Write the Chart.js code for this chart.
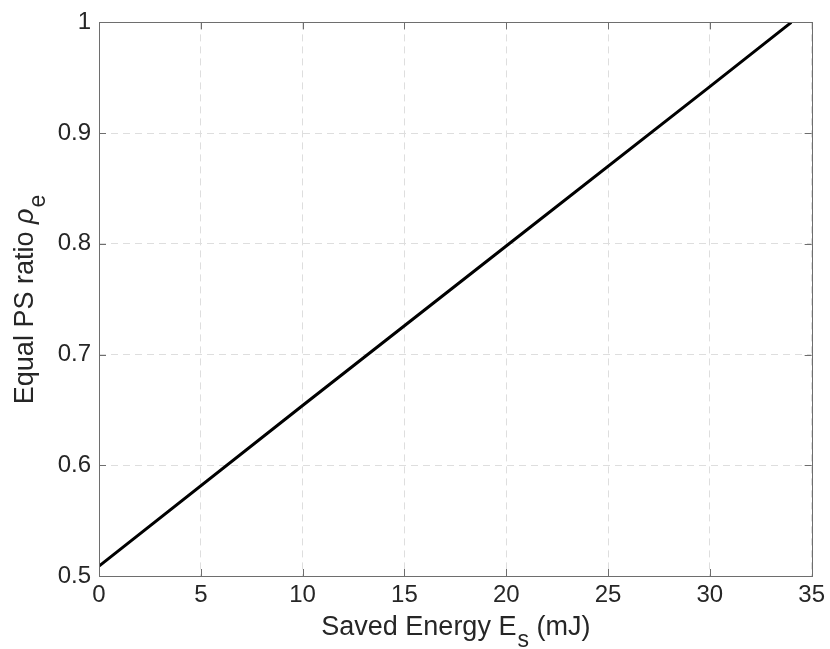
<!DOCTYPE html>
<html>
<head>
<meta charset="utf-8">
<script src="https://cdn.jsdelivr.net/npm/chart.js@4/dist/chart.umd.min.js"></script>
<style>
  html, body { margin: 0; padding: 0; background: #fff; }
  #wrap { width: 830px; height: 649px; }
</style>
</head>
<body>
<div id="wrap"><canvas id="chart" width="830" height="649"></canvas></div>
<script>
// Values
const savedEnergy = [0, 10, 20, 30, 34];          // E_s (mJ)
const psRatio = [0.509, 0.654, 0.798, 0.942, 1.0]; // rho_e
const xTicks = [0, 5, 10, 15, 20, 25, 30, 35];
const yTicks = [0.5, 0.6, 0.7, 0.8, 0.9, 1];

const FONT = '"Liberation Sans", Arial, Helvetica, sans-serif';
const TEXT = '#262626';
const AXIS = '#6e6e6e';

// box, inward ticks and axis titles with subscripts (MATLAB look)
const matlabAxes = {
    id: 'matlabAxes',
    afterDraw(chart) {
        const ctx = chart.ctx;
        const a = chart.chartArea;
        const xs = chart.scales.x, ys = chart.scales.y;
        ctx.save();
        ctx.strokeStyle = AXIS;
        ctx.lineWidth = 1;
        ctx.strokeRect(Math.round(a.left) + 0.5, Math.round(a.top) + 0.5,
            Math.round(a.right - a.left), Math.round(a.bottom - a.top));
        ctx.beginPath();
        xTicks.forEach(v => {
            const px = Math.round(xs.getPixelForValue(v)) + 0.5;
            ctx.moveTo(px, a.bottom); ctx.lineTo(px, a.bottom - 7);
            ctx.moveTo(px, a.top); ctx.lineTo(px, a.top + 7);
        });
        yTicks.forEach(v => {
            const py = Math.round(ys.getPixelForValue(v)) + 0.5;
            ctx.moveTo(a.left, py); ctx.lineTo(a.left + 7, py);
            ctx.moveTo(a.right, py); ctx.lineTo(a.right - 7, py);
        });
        ctx.stroke();

        const big = '27px ' + FONT, small = '23px ' + FONT;
        ctx.fillStyle = TEXT;
        ctx.textBaseline = 'alphabetic';
        ctx.textAlign = 'left';

        // x title: Saved Energy E_s (mJ)
        ctx.font = big;
        const p1 = 'Saved Energy E', p3 = ' (mJ)';
        const w1 = ctx.measureText(p1).width, w3 = ctx.measureText(p3).width;
        ctx.font = small;
        const w2 = ctx.measureText('s').width;
        const x0 = (a.left + a.right) / 2 - (w1 + w2 + w3) / 2;
        const yb = 635;
        ctx.font = big; ctx.fillText(p1, x0, yb);
        ctx.font = small; ctx.fillText('s', x0 + w1 + 1, yb + 12);
        ctx.font = big; ctx.fillText(p3, x0 + w1 + w2 + 1, yb);

        // y title: Equal PS ratio rho_e
        ctx.save();
        ctx.translate(33, 300);
        ctx.rotate(-Math.PI / 2);
        ctx.font = big;
        const q1 = 'Equal PS ratio ';
        const v1 = ctx.measureText(q1).width;
        ctx.font = 'italic 27px ' + FONT;
        const v2 = ctx.measureText('\u03C1').width;
        ctx.font = small;
        const v3 = ctx.measureText('e').width;
        const s0 = -(v1 + v2 + v3) / 2;
        ctx.font = big; ctx.fillText(q1, s0, 0);
        ctx.font = 'italic 27px ' + FONT; ctx.fillText('\u03C1', s0 + v1, 0);
        ctx.font = small; ctx.fillText('e', s0 + v1 + v2 + 1, 12);
        ctx.restore();
        ctx.restore();
    }
};

new Chart(document.getElementById('chart').getContext('2d'), {
    type: 'line',
    data: {
        datasets: [{
            data: savedEnergy.map((e, i) => ({ x: e, y: psRatio[i] })),
            borderColor: '#000000',
            borderWidth: 3,
            pointRadius: 0,
            tension: 0,
            fill: false
        }]
    },
    options: {
        responsive: false,
        animation: false,
        layout: { padding: { top: 20, right: 17, left: 0, bottom: 0 } },
        plugins: { legend: { display: false }, tooltip: { enabled: false } },
        scales: {
            x: {
                type: 'linear',
                min: 0, max: 35,
                afterBuildTicks: s => { s.ticks = xTicks.map(v => ({ value: v })); },
                afterFit: s => { s.height = 73; },
                grid: { color: '#dedede', lineWidth: 1, drawTicks: false },
                border: { display: false, dash: [7, 5] },
                ticks: { color: TEXT, font: { family: FONT, size: 24 }, padding: 5, maxRotation: 0 }
            },
            y: {
                type: 'linear',
                min: 0.5, max: 1,
                afterBuildTicks: s => { s.ticks = yTicks.map(v => ({ value: v })); },
                afterFit: s => { s.width = 99; },
                grid: { color: '#dedede', lineWidth: 1, drawTicks: false },
                border: { display: false, dash: [7, 5] },
                ticks: { color: TEXT, font: { family: FONT, size: 24 }, padding: 8,
                         callback: v => String(v) }
            }
        }
    },
    plugins: [matlabAxes]
});
</script>
</body>
</html>
